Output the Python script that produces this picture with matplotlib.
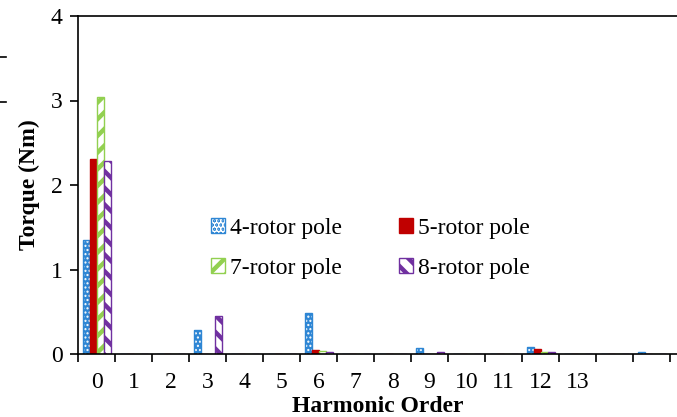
import numpy as np
import matplotlib.pyplot as plt
from matplotlib.lines import Line2D
from matplotlib.patches import Patch

plt.rcParams['font.family'] = ['Liberation Serif', 'DejaVu Serif']

# harmonic orders 0..13 plus two unlabeled slots
orders = list(range(16))
tick_labels = [str(i) for i in range(14)] + ["", ""]

pole4 = [1.35, 0.003, 0.003, 0.28, 0.003, 0.003, 0.48, 0.003, 0.003, 0.07, 0.003, 0.003, 0.08, 0.003, 0.003, 0.02]
pole5 = [2.31, 0.003, 0.003, 0.003, 0.003, 0.003, 0.05, 0.003, 0.003, 0.003, 0.003, 0.003, 0.06, 0.003, 0.003, 0.0]
pole7 = [3.04, 0.003, 0.003, 0.003, 0.003, 0.003, 0.04, 0.003, 0.003, 0.003, 0.003, 0.003, 0.02, 0.003, 0.003, 0.0]
pole8 = [2.28, 0.003, 0.003, 0.45, 0.003, 0.003, 0.02, 0.003, 0.003, 0.02, 0.003, 0.003, 0.025, 0.003, 0.003, 0.0]

# name, values, face, hatch colour, hatch, hatch linewidth
series = [
    ("4-rotor pole", pole4, "#2E86D4", "white", "....", 1.0),
    ("5-rotor pole", pole5, "#C00000", None, None, 1.0),
    ("7-rotor pole", pole7, "white", "#92D050", "//", 3.2),
    ("8-rotor pole", pole8, "white", "#7030A0", "\\\\", 3.2),
]
edge_colors = ["#2E86D4", "#C00000", "#92D050", "#7030A0"]

fig = plt.figure(figsize=(6.77, 4.17), dpi=100)
ax = fig.add_axes([78 / 677, 63 / 417, 599 / 677, 338 / 417])

x = np.arange(len(orders))
w = 0.19
offsets = [-1.5, -0.5, 0.5, 1.5]

handles = {}
for (name, vals, face, hcol, hatch, hlw), ec, off in zip(series, edge_colors, offsets):
    plt.rcParams['hatch.linewidth'] = hlw
    pos = x + off * w + 0.02
    if hatch:
        ax.bar(pos, vals, w, color=face, edgecolor=hcol, hatch=hatch, linewidth=0)
        fill = Patch(facecolor=face, edgecolor=hcol, hatch=hatch, linewidth=0)
    else:
        ax.bar(pos, vals, w, color=face, linewidth=0)
        fill = Patch(facecolor=face, linewidth=0)
    ax.bar(pos, vals, w, fill=False, edgecolor=ec, linewidth=1.0)
    outline = Patch(fill=False, edgecolor=ec, linewidth=1.0)
    handles[name] = (fill, outline)

ax.set_xlim(-0.5, -0.5 + 599 / 37)
ax.set_ylim(0, 4)
ax.set_yticks([0, 1, 2, 3, 4])
ax.set_xticks(np.arange(-0.5, 16, 1.0))
ax.set_xticklabels([])
ax.set_xticks(x, minor=True)
ax.set_xticklabels(tick_labels, minor=True)
ax.tick_params(axis='x', which='minor', length=0, pad=13, labelsize=17)
ax.tick_params(axis='x', which='major', length=6, width=1.2, direction='out')
ax.tick_params(axis='y', length=6, width=1.2, direction='out', labelsize=17, pad=5)

ax.spines['right'].set_visible(False)
for s in ['left', 'bottom', 'top']:
    ax.spines[s].set_linewidth(1.2)

ax.set_xlabel("Harmonic Order", fontsize=17, fontweight='bold', labelpad=2)
ax.set_ylabel("Torque (Nm)", fontsize=17, fontweight='bold', labelpad=8)

order = ["4-rotor pole", "7-rotor pole", "5-rotor pole", "8-rotor pole"]
ax.legend([handles[n] for n in order], order, ncol=2, frameon=False, fontsize=17,
          loc='upper left', bbox_to_anchor=(0.187, 0.466), handlelength=0.6,
          handleheight=0.6, handletextpad=0.2, columnspacing=2.4, labelspacing=0.8)

# clipped remnants at left edge
fig.add_artist(Line2D([0, 6 / 677], [1 - 57 / 417] * 2, color='black', lw=1.2))
fig.add_artist(Line2D([0, 6 / 677], [1 - 102 / 417] * 2, color='black', lw=1.2))

fig.savefig("out.png", dpi=100)
